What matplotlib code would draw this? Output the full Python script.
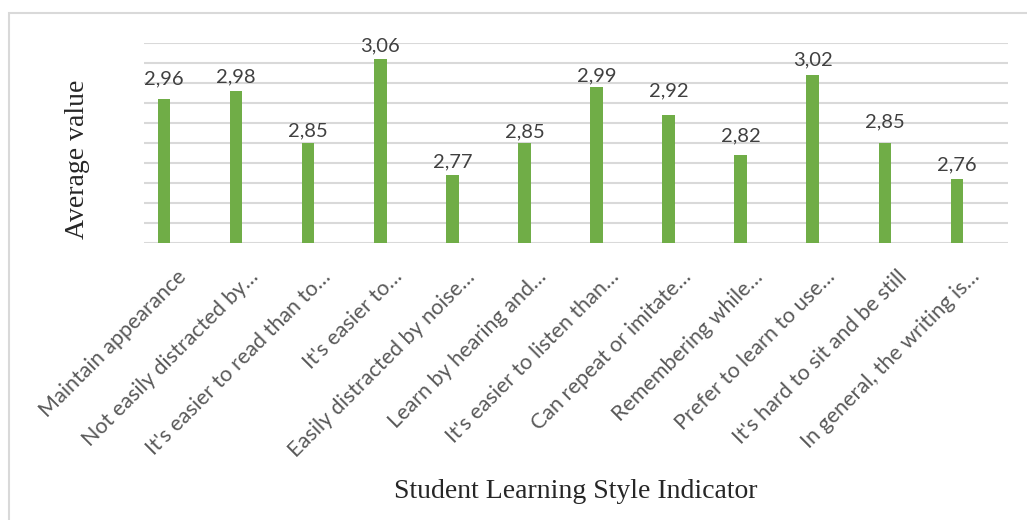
import matplotlib.pyplot as plt
import matplotlib.patches as mpatches
import matplotlib.transforms as mtransforms
import numpy as np

categories = [
    'Maintain appearance',
    'Not easily distracted by…',
    "It's easier to read than to…",
    "It's easier to…",
    'Easily distracted by noise…',
    'Learn by hearing and…',
    "It's easier to listen than…",
    'Can repeat or imitate…',
    'Remembering while…',
    'Prefer to learn to use…',
    "It's hard to sit and be still",
    'In general, the writing is…',
]
values = [2.96, 2.98, 2.85, 3.06, 2.77, 2.85, 2.99, 2.92, 2.82, 3.02, 2.85, 2.76]
value_labels = ['2,96', '2,98', '2,85', '3,06', '2,77', '2,85', '2,99', '2,92', '2,82', '3,02', '2,85', '2,76']

# hand-placed label gaps above bar tops (px), as in the original
label_gap = [20, 14, 12, 13, 13.5, 11.5, 11, 24, 19, 15, 21, 14.5]

W, H = 1027, 520
fig = plt.figure(figsize=(W / 100, H / 100), dpi=100)
fig.patch.set_facecolor('white')

# outer chart border
fig.patches.append(mpatches.Rectangle((9 / W, -0.1), 1.2, 1 - 13 / H + 0.1,
                                      transform=fig.transFigure, fill=False,
                                      edgecolor='#D9D9D9', linewidth=1.5))

ax = fig.add_axes([144 / W, 1 - 243 / H, (1008 - 144) / W, 200 / H])
x = np.arange(len(categories))
ax.bar(x, values, width=0.175, color='#70AD47', zorder=3)

step = 72.06
ax.set_ylim(2.6, 3.1)
ax.set_xlim(-20 / step, 11 + 51 / step)
ax.set_yticks(np.arange(2.6, 3.101, 0.05))
ax.yaxis.grid(True, color='#D9D9D9', linewidth=1.5, zorder=0)
ax.tick_params(axis='y', length=0, labelleft=False)
ax.tick_params(axis='x', length=0, pad=4)
for s in ax.spines.values():
    s.set_visible(False)

for xi, v, lab, g in zip(x, values, value_labels, label_gap):
    ax.annotate(lab, (xi, v), xytext=(0, g * 0.72), textcoords='offset points',
                ha='center', va='center', fontsize=14.5, color='#404040',
                family='Lato')

ax.set_xticks(x)
ax.set_xticklabels(categories, rotation=45, ha='right', va='top',
                   rotation_mode='anchor', fontsize=15.5, color='#595959',
                   family='Lato')
shift = mtransforms.ScaledTranslation(12 / 100, -18 / 100, fig.dpi_scale_trans)
for t in ax.get_xticklabels():
    t.set_transform(t.get_transform() + shift)

fig.text(77 / W, 1 - 159 / H, 'Average value', rotation=90,
         family='Liberation Serif', fontsize=20, color='#262626',
         ha='center', va='center')
fig.text(576 / W, 1 - 492 / H, 'Student Learning Style Indicator',
         family='Liberation Serif', fontsize=20, color='#262626',
         ha='center', va='center')

fig.savefig('out.png', dpi=100)
